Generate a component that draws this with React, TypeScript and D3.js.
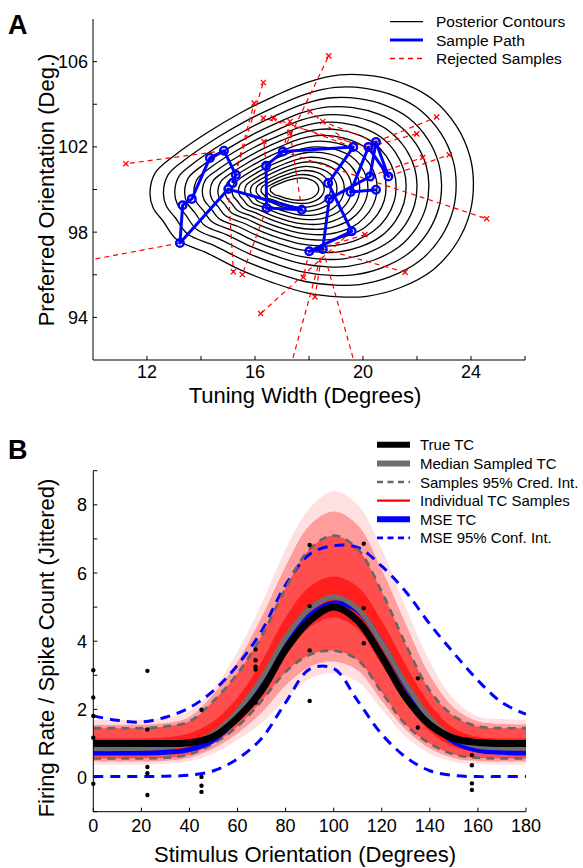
import React from 'react'
import * as d3 from 'd3'

// ---------- panel A : posterior contours, sample path, rejected samples ----------
// outer contour (tuning width, preferred orientation)
const outerContourX = [12.11, 12.3, 12.97, 14.21, 15.44, 16.68, 17.91, 19.15, 20.38, 21.62, 22.6, 23.47, 23.96, 24.09, 23.96, 23.47, 22.6, 21.37, 20.14, 19.15, 17.91, 16.68, 15.44, 14.21, 13.1, 12.6, 12.23]
const outerContourY = [99.84, 100.77, 101.55, 102.65, 103.58, 104.36, 105.02, 105.38, 105.33, 104.91, 104.21, 102.96, 101.55, 100.3, 98.9, 97.49, 96.24, 95.39, 94.99, 94.96, 95.15, 95.62, 96.24, 97.03, 97.65, 98.51, 99.13]
const contourCenterX = 17.35
const contourCenterY = 100.0
// relative size of each nested contour (outer -> inner)
const contourScaleX = [1, 0.905, 0.825, 0.755, 0.69, 0.63, 0.575, 0.52, 0.47, 0.42, 0.375, 0.33, 0.29, 0.25, 0.215, 0.18, 0.15]
const contourScaleY = [1, 0.89, 0.8, 0.72, 0.65, 0.585, 0.525, 0.47, 0.42, 0.37, 0.325, 0.28, 0.24, 0.2, 0.165, 0.13, 0.1]

// accepted samples, in chain order
const pathWidth = [15.17, 15.29, 14.85, 14.33, 13.66, 13.32, 13.22, 15.01, 17.73, 16.43, 16.41, 17.03, 19.64, 18.71, 19.58, 18.01, 18.51, 18.75, 20.26, 20.48, 20.94, 20.2, 19.54, 20.48]
const pathPref = [100.3, 100.69, 101.82, 101.48, 99.56, 99.26, 97.49, 100.02, 99.05, 99.13, 101.11, 101.78, 101.99, 100.3, 98.04, 97.1, 97.21, 99.56, 100.61, 102.23, 100.61, 101.99, 99.88, 99.99]

// rejected proposals and the accepted sample they were proposed from
const rejectedWidth = [11.22, 9.5, 18.73, 16.31, 15.97, 15.2, 15.53, 16.31, 16.68, 17.3, 18.04, 18.51, 16.33, 17.3, 22.73, 21.99, 23.19, 22.21, 24.58, 21.56, 20.07, 18.22, 16.21, 17.79, 17.3, 19.74]
const rejectedPref = [101.21, 96.6, 106.27, 105.02, 104.05, 96.14, 96.01, 103.35, 103.35, 103.19, 103.66, 103.19, 102.25, 102.65, 103.4, 102.61, 101.63, 101.5, 98.63, 96.12, 97.88, 94.96, 94.18, 95.88, 91.6, 91.6]
const rejectedFrom = [2, 6, 11, 0, 0, 7, 9, 21, 12, 11, 12, 19, 10, 8, 19, 21, 20, 18, 11, 16, 15, 16, 14, 15, 16, 16]

// ---------- panel B : tuning curves ----------
const orientations = [0, 10, 20, 30, 40, 50, 60, 70, 80, 90, 100, 110, 120, 130, 140, 150, 160, 170, 180]
const trueTC = [1.0, 1.0, 1.0, 1.0, 1.02, 1.2, 1.75, 2.55, 3.75, 4.6, 5.0, 4.6, 3.55, 2.35, 1.55, 1.15, 1.03, 1.0, 1.0]
const medianTC = [0.85, 0.85, 0.86, 0.9, 1.0, 1.3, 1.95, 2.9, 4.1, 4.95, 5.3, 4.95, 3.95, 2.75, 1.75, 1.15, 0.92, 0.87, 0.86]
const mseTC = [0.72, 0.72, 0.72, 0.74, 0.82, 1.1, 1.75, 2.7, 3.85, 4.75, 5.12, 4.9, 3.95, 2.7, 1.65, 1.05, 0.8, 0.74, 0.72]
const credHigh = [1.45, 1.45, 1.45, 1.5, 1.65, 2.25, 3.05, 4.15, 5.55, 6.7, 7.1, 6.7, 5.45, 3.9, 2.55, 1.8, 1.5, 1.45, 1.45]
const credLow = [0.56, 0.56, 0.56, 0.58, 0.68, 1.0, 1.5, 2.25, 3.1, 3.6, 3.72, 3.45, 2.5, 1.55, 1.0, 0.68, 0.58, 0.56, 0.56]
const confHigh = [1.81, 1.68, 1.63, 1.77, 2.05, 2.55, 3.3, 4.3, 5.65, 6.55, 6.8, 6.75, 6.2, 5.45, 4.5, 3.65, 2.85, 2.2, 1.86]
const confLow = [0.03, 0.03, 0.03, 0.04, 0.07, 0.2, 0.55, 1.15, 2.2, 3.18, 3.2, 2.25, 1.27, 0.6, 0.2, 0.06, 0.03, 0.03, 0.03]
// spread of the individual samples: envelopes from outermost to central
const samplesMax = [1.7, 1.7, 1.7, 1.75, 1.95, 2.6, 3.7, 5.1, 6.7, 7.9, 8.4, 8.0, 6.7, 5.0, 3.4, 2.3, 1.8, 1.72, 1.7]
const samplesMin = [0.38, 0.38, 0.38, 0.4, 0.48, 0.7, 1.1, 1.6, 2.3, 2.9, 3.05, 2.8, 2.0, 1.2, 0.7, 0.46, 0.4, 0.38, 0.38]
const samples90High = [1.55, 1.55, 1.55, 1.6, 1.78, 2.45, 3.4, 4.7, 6.2, 7.4, 7.8, 7.4, 6.1, 4.5, 3.0, 2.05, 1.65, 1.57, 1.55]
const samples90Low = [0.47, 0.47, 0.47, 0.49, 0.58, 0.85, 1.3, 1.9, 2.7, 3.25, 3.4, 3.15, 2.25, 1.4, 0.85, 0.57, 0.49, 0.47, 0.47]
const samplesMidHigh = [1.15, 1.15, 1.15, 1.18, 1.3, 1.65, 2.35, 3.4, 4.7, 5.6, 5.9, 5.6, 4.6, 3.3, 2.15, 1.45, 1.2, 1.15, 1.15]
const samplesMidLow = [0.72, 0.72, 0.72, 0.75, 0.85, 1.1, 1.6, 2.5, 3.6, 4.4, 4.7, 4.35, 3.3, 2.2, 1.35, 0.9, 0.76, 0.73, 0.72]

// spike counts per trial
const trialOrient = [0, 0, 0, 0, 0, 22.5, 22.5, 22.5, 22.5, 22.5, 45, 45, 45, 45, 67.5, 67.5, 67.5, 67.5, 67.5, 90, 90, 90, 90, 112.5, 112.5, 112.5, 135, 135, 157.5, 157.5, 157.5, 157.5]
const trialRate = [3.15, 2.35, 1.81, 1.17, -0.18, 3.13, 1.41, 0.31, 0.13, -0.51, 1.99, 0.02, -0.24, -0.42, 3.76, 3.44, 3.25, 3.17, 2.2, 6.82, 5.03, 3.73, 2.25, 6.86, 4.97, 3.94, 2.91, 1.47, 0.66, 0.36, -0.17, -0.36]

const legendA = ['Posterior Contours', 'Sample Path', 'Rejected Samples']
const legendB = ['True TC', 'Median Sampled TC', 'Samples 95% Cred. Int.', 'Individual TC Samples', 'MSE TC', 'MSE 95% Conf. Int.']

const font = "'Liberation Sans', Arial, Helvetica, sans-serif"
const BLUE = '#0000ff'
const RED = '#ff0000'
const GRAY = '#6e6e6e'

export default function App() {
  // scales
  const xA = d3.scaleLinear().domain([10, 26]).range([93, 525])
  const yA = d3.scaleLinear().domain([92, 108]).range([360, 19])
  const xB = d3.scaleLinear().domain([0, 180]).range([93.3, 526])
  const yB = d3.scaleLinear().domain([-1, 9]).range([811.7, 470.7])

  // contours
  const contourLine = d3.line<number[]>()
    .x(d => xA(d[0])).y(d => yA(d[1]))
    .curve(d3.curveCatmullRomClosed.alpha(0.5))
  const contours = contourScaleX.map((kx, i) => {
    const ky = contourScaleY[i]
    const pts = outerContourX.map((w, j) => [
      contourCenterX + (w - contourCenterX) * kx,
      contourCenterY + (outerContourY[j] - contourCenterY) * ky,
    ])
    return contourLine(pts)
  })

  const samplePath = d3.line<number>().x(d => xA(d)).y((d, i) => yA(pathPref[i]))(pathWidth)

  // tuning curves
  const tcLine = (vals: number[]) => d3.line<number>()
    .x((d, i) => xB(orientations[i])).y(d => yB(d))
    .curve(d3.curveCatmullRom.alpha(0.5))(vals)
  const tcArea = (lo: number[], hi: number[]) => d3.area<number>()
    .x((d, i) => xB(orientations[i])).y0((d, i) => yB(lo[i])).y1(d => yB(d))
    .curve(d3.curveCatmullRom.alpha(0.5))(hi)

  const cross = (cx: number, cy: number, k: number) => (
    <g key={k} stroke={RED} strokeWidth={1.3}>
      <line x1={cx - 2.6} y1={cy - 2.6} x2={cx + 2.6} y2={cy + 2.6} />
      <line x1={cx - 2.6} y1={cy + 2.6} x2={cx + 2.6} y2={cy - 2.6} />
    </g>
  )

  const yTicksA = d3.range(94, 107, 2)
  const xTicksA = d3.range(12, 27, 2)
  const yTicksB = d3.range(-1, 10, 1)
  const xTicksB = d3.range(0, 181, 20)

  const legendBStyles = [
    { stroke: '#000', w: 6, dash: undefined },
    { stroke: GRAY, w: 6, dash: undefined },
    { stroke: '#666', w: 2.6, dash: '6,4.5' },
    { stroke: RED, w: 2.2, dash: undefined },
    { stroke: BLUE, w: 6, dash: undefined },
    { stroke: BLUE, w: 2.8, dash: '6,4.5' },
  ]

  return (
    <svg width={583} height={868} style={{ position: 'absolute', left: 0, top: 0, background: '#fff' }}
      fontFamily={font}>
      <defs>
        <clipPath id="clipA"><rect x={93} y={19} width={432} height={341} /></clipPath>
        <clipPath id="clipB"><rect x={93.3} y={470} width={433} height={342} /></clipPath>
      </defs>

      {/* ---------------- panel A ---------------- */}
      <text x={8} y={34} fontSize={27} fontWeight="bold">A</text>
      <g clipPath="url(#clipA)">
        {contours.map((d, i) => <path key={i} d={d || ''} fill="none" stroke="#000" strokeWidth={1.3} />)}
        {rejectedWidth.map((w, i) => (
          <line key={i} x1={xA(pathWidth[rejectedFrom[i]])} y1={yA(pathPref[rejectedFrom[i]])}
            x2={xA(w)} y2={yA(rejectedPref[i])} stroke={RED} strokeWidth={1.2} strokeDasharray="5,4" />
        ))}
        {rejectedWidth.map((w, i) => cross(xA(w), yA(rejectedPref[i]), i))}
        <path d={samplePath || ''} fill="none" stroke={BLUE} strokeWidth={3} strokeLinejoin="round" />
        {pathWidth.map((w, i) => (
          <circle key={i} cx={xA(w)} cy={yA(pathPref[i])} r={3.8} fill="none" stroke={BLUE} strokeWidth={2.4} />
        ))}
      </g>
      <g stroke="#000" strokeWidth={1}>
        <line x1={93} y1={19} x2={93} y2={360} />
        <line x1={93} y1={360} x2={525} y2={360} />
        {yTicksA.map(t => <line key={t} x1={93} x2={97} y1={yA(t)} y2={yA(t)} />)}
        {xTicksA.map(t => <line key={t} x1={xA(t)} x2={xA(t)} y1={360} y2={356} />)}
      </g>
      <g fontSize={18}>
        {yTicksA.filter(t => (t - 94) % 4 === 0).map(t => (
          <text key={t} x={88} y={yA(t) + 6.5} textAnchor="end">{t}</text>
        ))}
        {xTicksA.filter(t => (t - 12) % 4 === 0).map(t => (
          <text key={t} x={xA(t)} y={378} textAnchor="middle">{t}</text>
        ))}
      </g>
      <text x={305} y={403} fontSize={22} textAnchor="middle">Tuning Width (Degrees)</text>
      <text transform="translate(54,190) rotate(-90)" fontSize={22} textAnchor="middle">Preferred Orientation (Deg.)</text>
      {legendA.map((name, i) => {
        const cy = 21.7 + i * 18.4
        return (
          <g key={name}>
            {i === 0 && <line x1={390} x2={423} y1={cy} y2={cy} stroke="#000" strokeWidth={1.3} />}
            {i === 1 && <line x1={390} x2={423} y1={cy} y2={cy} stroke={BLUE} strokeWidth={3} />}
            {i === 2 && <line x1={390} x2={423} y1={cy} y2={cy} stroke={RED} strokeWidth={1.4} strokeDasharray="5,4" />}
            <text x={436} y={cy + 5.5} fontSize={15.5}>{name}</text>
          </g>
        )
      })}

      {/* ---------------- panel B ---------------- */}
      <text x={8} y={459} fontSize={27} fontWeight="bold">B</text>
      <g clipPath="url(#clipB)">
        <path d={tcArea(samplesMin, samplesMax) || ''} fill={RED} fillOpacity={0.12} />
        <path d={tcArea(samples90Low, samples90High) || ''} fill={RED} fillOpacity={0.3} />
        <path d={tcArea(credLow, credHigh) || ''} fill={RED} fillOpacity={0.5} />
        <path d={tcArea(samplesMidLow, samplesMidHigh) || ''} fill={RED} fillOpacity={0.6} />
        <path d={tcLine(confHigh) || ''} fill="none" stroke={BLUE} strokeWidth={3} strokeDasharray="10,7" />
        <path d={tcLine(confLow) || ''} fill="none" stroke={BLUE} strokeWidth={3} strokeDasharray="10,7" />
        <path d={tcLine(credHigh) || ''} fill="none" stroke="#666" strokeWidth={2.6} strokeDasharray="8,6" />
        <path d={tcLine(credLow) || ''} fill="none" stroke="#666" strokeWidth={2.6} strokeDasharray="8,6" />
        <path d={tcLine(mseTC) || ''} fill="none" stroke={BLUE} strokeWidth={5} />
        <path d={tcLine(medianTC) || ''} fill="none" stroke={GRAY} strokeWidth={5} />
        <path d={tcLine(trueTC) || ''} fill="none" stroke="#000" strokeWidth={7} />
      </g>
      {trialOrient.map((o, i) => (
        <circle key={i} cx={xB(o)} cy={yB(trialRate[i])} r={2.2} fill="#000" />
      ))}
      <g stroke="#000" strokeWidth={1}>
        <line x1={93.3} y1={470.7} x2={93.3} y2={811.7} />
        <line x1={93.3} y1={811.7} x2={526} y2={811.7} />
        {yTicksB.map(t => <line key={t} x1={93.3} x2={97.3} y1={yB(t)} y2={yB(t)} />)}
        {xTicksB.map(t => <line key={t} x1={xB(t)} x2={xB(t)} y1={811.7} y2={807.7} />)}
      </g>
      <g fontSize={18}>
        {yTicksB.filter(t => t >= 0 && t % 2 === 0).map(t => (
          <text key={t} x={87} y={yB(t) + 6.5} textAnchor="end">{t}</text>
        ))}
        {xTicksB.map(t => (
          <text key={t} x={xB(t)} y={832} textAnchor="middle">{t}</text>
        ))}
      </g>
      <text x={305} y={862} fontSize={22} textAnchor="middle">Stimulus Orientation (Degrees)</text>
      <text transform="translate(54,648) rotate(-90)" fontSize={22} textAnchor="middle">Firing Rate / Spike Count (Jittered)</text>
      {legendB.map((name, i) => {
        const cy = 444.8 + i * 18.6
        const s = legendBStyles[i]
        return (
          <g key={name}>
            <line x1={377} x2={410} y1={cy} y2={cy} stroke={s.stroke} strokeWidth={s.w} strokeDasharray={s.dash} />
            <text x={420} y={cy + 5.5} fontSize={15}>{name}</text>
          </g>
        )
      })}
    </svg>
  )
}
